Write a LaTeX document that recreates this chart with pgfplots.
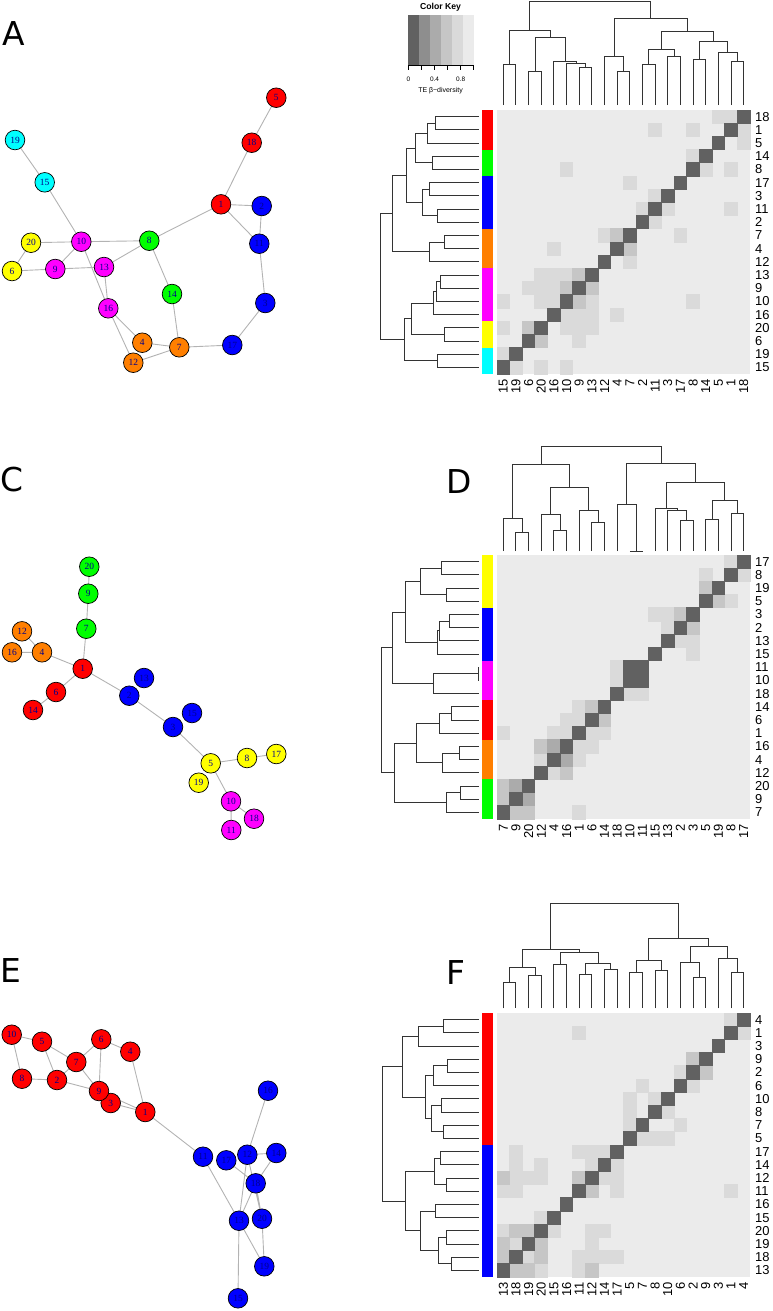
\documentclass[border=0pt]{standalone}
\usepackage{fontspec}
\setmainfont{Liberation Sans}
\newfontfamily\vlabfont{Liberation Serif}
\newfontfamily\panelfont{DejaVu Sans}
\usepackage{pgfplots}
\pgfplotsset{compat=1.18}

% grey levels of the colour key, 0 (dark) to 1 (light)
\definecolor{g1}{HTML}{616161}
\definecolor{g2}{HTML}{8E8E8E}
\definecolor{g3}{HTML}{ABABAB}
\definecolor{g4}{HTML}{C6C6C6}
\definecolor{g5}{HTML}{DADADA}
\definecolor{g6}{HTML}{EBEBEB}
\definecolor{vred}{HTML}{FF0000}
\definecolor{vgreen}{HTML}{00FF00}
\definecolor{vblue}{HTML}{0000FF}
\definecolor{vorange}{HTML}{FF7F00}
\definecolor{vmagenta}{HTML}{FF00FF}
\definecolor{vyellow}{HTML}{FFFF00}
\definecolor{vcyan}{HTML}{00FFFF}
\definecolor{edgec}{HTML}{B3B3B3}
\definecolor{labc}{HTML}{00008B}
\definecolor{dendc}{HTML}{333333}

\pgfplotsset{
  vert/.style={only marks, mark=*, color=black, mark size=9.8bp,
    mark options={fill=#1, line width=0.7bp},
    point meta=explicit symbolic, nodes near coords, nodes near coords align=center,
    nodes near coords style={font=\vlabfont\fontsize{9.5}{9.5}\selectfont, text=labc, inner sep=0pt}},
  edges/.style={color=edgec, line width=0.9bp, unbounded coords=jump, no markers},
  dend/.style={color=dendc, line width=1bp, unbounded coords=jump, no markers},
  heat/.style={anchor=north west, width=253bp, height=264bp, scale only axis,
    xmin=0.5, xmax=20.5, ymin=0.5, ymax=20.5, y dir=reverse, clip=false,
    axis line style={draw=none}, major tick length=0pt, tick style={draw=none},
    xtick={1,...,20}, ytick={1,...,20}, yticklabel pos=right,
    tick label style={font=\fontsize{13}{13}\selectfont, inner sep=0pt},
    xticklabel style={rotate=90, anchor=east}, yticklabel style={anchor=west},
    xticklabel shift=5bp, yticklabel shift=5bp},
  cell/.style={only marks, mark=square*, color=#1, mark size=6.6bp,
    mark options={xscale=0.958, line width=0pt}},
  side/.style={fill=#1, draw=none},
}

\begin{document}
\begin{tikzpicture}
\useasboundingbox (0,0) rectangle (773bp,-1311bp);

% ---------- canvas: networks, dendrograms, colour key (pixel coordinates) ----------
\begin{axis}[at={(0bp,0bp)}, anchor=north west, width=773bp, height=1311bp, scale only axis,
  xmin=0, xmax=773, ymin=0, ymax=1311, y dir=reverse, hide axis, clip=false]

% panel letters
\node[anchor=base west, inner sep=0pt, font=\panelfont\fontsize{33}{33}\selectfont] at (axis cs:2,45) {A};
\node[anchor=base west, inner sep=0pt, font=\panelfont\fontsize{33}{33}\selectfont] at (axis cs:446,45) {B};
\node[anchor=base west, inner sep=0pt, font=\panelfont\fontsize{33}{33}\selectfont] at (axis cs:0,491) {C};
\node[anchor=base west, inner sep=0pt, font=\panelfont\fontsize{33}{33}\selectfont] at (axis cs:446,493) {D};
\node[anchor=base west, inner sep=0pt, font=\panelfont\fontsize{33}{33}\selectfont] at (axis cs:0,982) {E};
\node[anchor=base west, inner sep=0pt, font=\panelfont\fontsize{33}{33}\selectfont] at (axis cs:446,984) {F};

% ---- network A ----
\addplot[edges] coordinates {
 (276.3,97.7) (251.7,142.7) (221,204.3) (149.3,240.7) (81.3,241.7) (31,242.7) (12,271) (55.3,269) (104,267) (108.3,308.3) (142.3,342.7) (179.3,347.3) (232.3,345) (265.3,303) (259.3,243.7) (261.7,206) (221,204.3) (259.3,243.7) (nan,nan)
 (149.3,240.7) (104,267) (nan,nan)
 (149.3,240.7) (172,294) (179.3,347.3) (133.3,362.7) (108.3,308.3) (81.3,241.7) (55.3,269) (nan,nan)
 (15,140) (44.7,182.3) (81.3,241.7)
};
\addplot[vert=vred] coordinates {(276.3,97.7) [5] (251.7,142.7) [18] (221,204.3) [1]};
\addplot[vert=vblue] coordinates {(261.7,206) [2] (259.3,243.7) [11] (265.3,303) [3] (232.3,345) [17]};
\addplot[vert=vgreen] coordinates {(149.3,240.7) [8] (172,294) [14]};
\addplot[vert=vcyan] coordinates {(15,140) [19] (44.7,182.3) [15]};
\addplot[vert=vyellow] coordinates {(31,242.7) [20] (12,271) [6]};
\addplot[vert=vmagenta] coordinates {(81.3,241.7) [10] (55.3,269) [9] (104,267) [13] (108.3,308.3) [16]};
\addplot[vert=vorange] coordinates {(142.3,342.7) [4] (179.3,347.3) [7] (133.3,362.7) [12]};

% ---- network C ----
\addplot[edges] coordinates {
 (89.3,566.7) (88.3,593.7) (86.3,628.7) (82.7,668.7) (129.3,695.7) (173,727) (210.7,763.3) (247,758) (276.3,754) (nan,nan)
 (22,631.3) (42,652.3) (82.7,668.7) (56,692) (33,710) (nan,nan)
 (12,652.3) (42,652.3) (nan,nan)
 (210.7,763.3) (231,801.3) (231.3,830) (nan,nan)
 (231,801.3) (254,818.7)
};
\addplot[vert=vgreen] coordinates {(89.3,566.7) [20] (88.3,593.7) [9] (86.3,628.7) [7]};
\addplot[vert=vorange] coordinates {(22,631.3) [12] (12,652.3) [16] (42,652.3) [4]};
\addplot[vert=vred] coordinates {(82.7,668.7) [1] (56,692) [6] (33,710) [14]};
\addplot[vert=vblue] coordinates {(144,678) [13] (129.3,695.7) [2] (192,713) [15] (173,727) [3]};
\addplot[vert=vyellow] coordinates {(210.7,763.3) [5] (247,758) [8] (276.3,754) [17] (198.7,782.7) [19]};
\addplot[vert=vmagenta] coordinates {(231,801.3) [10] (254,818.7) [18] (231.3,830) [11]};

% ---- network E ----
\addplot[edges] coordinates {
 (22,1078.7) (11.7,1034.7) (42,1041.7) (57,1080) (22,1078.7) (nan,nan)
 (42,1041.7) (76.3,1062) (57,1080) (99,1091) (145.3,1112) (203,1156.7) (239,1220.7) (238,1298.3) (nan,nan)
 (76.3,1062) (101.3,1039.3) (130.3,1051.7) (145.3,1112) (110.7,1103) (nan,nan)
 (76.3,1062) (99,1091) (101.3,1039.3) (nan,nan)
 (268,1090.7) (247.3,1154.7) (276.3,1153) (255.7,1183.3) (226.3,1160.3) (nan,nan)
 (247.3,1154.7) (239,1220.7) (255.7,1183.3) (262,1218.7) (247.3,1154.7) (nan,nan)
 (239,1220.7) (264.3,1266.3) (262,1218.7)
};
\addplot[vert=vred] coordinates {(11.7,1034.7) [10] (42,1041.7) [5] (101.3,1039.3) [6] (130.3,1051.7) [4] (76.3,1062) [7] (22,1078.7) [8] (57,1080) [2] (110.7,1103) [3] (99,1091) [9] (145.3,1112) [1]};
\addplot[vert=vblue] coordinates {(268,1090.7) [16] (203,1156.7) [11] (226.3,1160.3) [17] (247.3,1154.7) [12] (276.3,1153) [14] (255.7,1183.3) [18] (239,1220.7) [13] (262,1218.7) [20] (264.3,1266.3) [19] (238,1298.3) [15]};

% ---- colour key ----
\addplot[side=g1] coordinates {(408.3,15) (419.2,15) (419.2,65.7) (408.3,65.7)};
\addplot[side=g2] coordinates {(419.2,15) (430.1,15) (430.1,65.7) (419.2,65.7)};
\addplot[side=g3] coordinates {(430.1,15) (441,15) (441,65.7) (430.1,65.7)};
\addplot[side=g4] coordinates {(441,15) (451.9,15) (451.9,65.7) (441,65.7)};
\addplot[side=g5] coordinates {(451.9,15) (462.8,15) (462.8,65.7) (451.9,65.7)};
\addplot[side=g6] coordinates {(462.8,15) (473.7,15) (473.7,65.7) (462.8,65.7)};
\addplot[black, line width=0.8bp, unbounded coords=jump, no markers] coordinates {
 (408.3,65.7) (473.7,65.7) (nan,nan) (408.3,65.7) (408.3,70) (nan,nan)
 (421.4,65.7) (421.4,70) (nan,nan) (434.5,65.7) (434.5,70) (nan,nan)
 (447.5,65.7) (447.5,70) (nan,nan) (460.6,65.7) (460.6,70) (nan,nan)
 (473.7,65.7) (473.7,70)
};
\node[font=\bfseries\fontsize{8.7}{9}\selectfont, inner sep=0pt] at (axis cs:440.5,7.3) {Color Key};
\node[font=\fontsize{6.5}{7}\selectfont, inner sep=0pt] at (axis cs:408.3,79.5) {0};
\node[font=\fontsize{6.5}{7}\selectfont, inner sep=0pt] at (axis cs:434.5,79.5) {0.4};
\node[font=\fontsize{6.5}{7}\selectfont, inner sep=0pt] at (axis cs:460.6,79.5) {0.8};
\node[font=\fontsize{7}{7}\selectfont, inner sep=0pt] at (axis cs:440.5,90.5) {TE β−diversity};

% ---- dendrograms B ----
\addplot[dend] coordinates {
 (503.3,105) (503.3,64.3) (515.9,64.3) (515.9,105) (nan,nan)
 (528.6,105) (528.6,71.7) (541.3,71.7) (541.3,105) (nan,nan)
 (579.2,105) (579.2,67.7) (591.9,67.7) (591.9,105) (nan,nan)
 (566.6,105) (566.6,63.3) (585.6,63.3) (585.6,67.7) (nan,nan)
 (553.9,105) (553.9,61) (576.1,61) (576.1,63.3) (nan,nan)
 (535,71.7) (535,37.7) (565,37.7) (565,61) (nan,nan)
 (509.6,64.3) (509.6,30) (550,30) (550,37.7) (nan,nan)
 (617.2,105) (617.2,71.7) (629.8,71.7) (629.8,105) (nan,nan)
 (604.5,105) (604.5,56.7) (623.5,56.7) (623.5,71.7) (nan,nan)
 (642.5,105) (642.5,64.3) (655.2,64.3) (655.2,105) (nan,nan)
 (667.8,105) (667.8,56) (680.5,56) (680.5,105) (nan,nan)
 (648.8,64.3) (648.8,49.3) (674.2,49.3) (674.2,56) (nan,nan)
 (693.1,105) (693.1,59.3) (705.8,59.3) (705.8,105) (nan,nan)
 (731.1,105) (731.1,61.7) (743.7,61.7) (743.7,105) (nan,nan)
 (718.4,105) (718.4,52.3) (737.4,52.3) (737.4,61.7) (nan,nan)
 (699.5,59.3) (699.5,41) (727.9,41) (727.9,52.3) (nan,nan)
 (661.5,49.3) (661.5,31.7) (713.7,31.7) (713.7,41) (nan,nan)
 (614,56.7) (614,18.3) (687.6,18.3) (687.6,31.7) (nan,nan)
 (529.8,30) (529.8,1.7) (650.8,1.7) (650.8,18.3)
};
\addplot[dend] coordinates {
 (479,116.6) (435.7,116.6) (435.7,129.8) (479,129.8) (nan,nan)
 (435.7,123.2) (427.7,123.2) (427.7,143) (479,143) (nan,nan)
 (479,156.2) (432.3,156.2) (432.3,169.4) (479,169.4) (nan,nan)
 (427.7,133.1) (415,133.1) (415,162.8) (432.3,162.8) (nan,nan)
 (479,182.6) (429.3,182.6) (429.3,195.8) (479,195.8) (nan,nan)
 (479,209) (437.3,209) (437.3,222.2) (479,222.2) (nan,nan)
 (429.3,189.2) (422.7,189.2) (422.7,215.6) (437.3,215.6) (nan,nan)
 (415,148) (406,148) (406,202.4) (422.7,202.4) (nan,nan)
 (479,235.4) (444.3,235.4) (444.3,248.6) (479,248.6) (nan,nan)
 (444.3,242) (429.3,242) (429.3,261.8) (479,261.8) (nan,nan)
 (406,175.2) (392.7,175.2) (392.7,251.9) (429.3,251.9) (nan,nan)
 (479,275) (440.3,275) (440.3,288.2) (479,288.2) (nan,nan)
 (440.3,281.6) (436.3,281.6) (436.3,301.4) (479,301.4) (nan,nan)
 (436.3,291.5) (433.3,291.5) (433.3,314.6) (479,314.6) (nan,nan)
 (479,327.8) (444.7,327.8) (444.7,341) (479,341) (nan,nan)
 (433.3,303) (411.3,303) (411.3,334.4) (444.7,334.4) (nan,nan)
 (479,354.2) (437.3,354.2) (437.3,367.4) (479,367.4) (nan,nan)
 (411.3,318.7) (404.3,318.7) (404.3,360.8) (437.3,360.8) (nan,nan)
 (392.7,213.5) (380.5,213.5) (380.5,339.8) (404.3,339.8)
};

% ---- dendrograms D ----
\addplot[dend] coordinates {
 (515.9,551) (515.9,532.7) (528.6,532.7) (528.6,551) (nan,nan)
 (503.3,551) (503.3,518.7) (522.3,518.7) (522.3,532.7) (nan,nan)
 (553.9,551) (553.9,530.7) (566.6,530.7) (566.6,551) (nan,nan)
 (541.3,551) (541.3,514) (560.3,514) (560.3,530.7) (nan,nan)
 (591.9,551) (591.9,522.7) (604.5,522.7) (604.5,551) (nan,nan)
 (579.2,551) (579.2,510.7) (598.2,510.7) (598.2,522.7) (nan,nan)
 (550.8,514) (550.8,487.7) (588.7,487.7) (588.7,510.7) (nan,nan)
 (512.8,518.7) (512.8,464.3) (569.8,464.3) (569.8,487.7) (nan,nan)
 (629.8,551) (642.5,551) (nan,nan)
 (617.2,551) (617.2,504.7) (636.2,504.7) (636.2,551) (nan,nan)
 (680.5,551) (680.5,520.7) (693.1,520.7) (693.1,551) (nan,nan)
 (667.8,551) (667.8,510.7) (686.8,510.7) (686.8,520.7) (nan,nan)
 (655.2,551) (655.2,508) (677.3,508) (677.3,510.7) (nan,nan)
 (705.8,551) (705.8,519.3) (718.4,519.3) (718.4,551) (nan,nan)
 (731.1,551) (731.1,513.3) (743.7,513.3) (743.7,551) (nan,nan)
 (712.1,519.3) (712.1,500) (737.4,500) (737.4,513.3) (nan,nan)
 (666.3,508) (666.3,482.7) (724.8,482.7) (724.8,500) (nan,nan)
 (626.7,504.7) (626.7,463.3) (695.6,463.3) (695.6,482.7) (nan,nan)
 (541.3,464.3) (541.3,446) (661.2,446) (661.2,463.3)
};
\addplot[dend] coordinates {
 (479,561.6) (441.7,561.6) (441.7,574.8) (479,574.8) (nan,nan)
 (479,588) (446.7,588) (446.7,601.2) (479,601.2) (nan,nan)
 (441.7,568.2) (420,568.2) (420,594.6) (446.7,594.6) (nan,nan)
 (479,614.4) (449.3,614.4) (449.3,627.6) (479,627.6) (nan,nan)
 (449.3,621) (439.3,621) (439.3,640.8) (479,640.8) (nan,nan)
 (439.3,630.9) (437.3,630.9) (437.3,654) (479,654) (nan,nan)
 (420,581.4) (405,581.4) (405,642.5) (437.3,642.5) (nan,nan)
 (479,667.2) (478,667.2) (478,680.4) (479,680.4) (nan,nan)
 (478,673.8) (433.3,673.8) (433.3,693.6) (479,693.6) (nan,nan)
 (405,612) (392.7,612) (392.7,683.7) (433.3,683.7) (nan,nan)
 (479,706.8) (451,706.8) (451,720) (479,720) (nan,nan)
 (451,713.4) (439.3,713.4) (439.3,733.2) (479,733.2) (nan,nan)
 (479,746.4) (459,746.4) (459,759.6) (479,759.6) (nan,nan)
 (459,753) (442.7,753) (442.7,772.8) (479,772.8) (nan,nan)
 (439.3,723.3) (416.7,723.3) (416.7,762.9) (442.7,762.9) (nan,nan)
 (479,786) (460,786) (460,799.2) (479,799.2) (nan,nan)
 (460,792.6) (446.7,792.6) (446.7,812.4) (479,812.4) (nan,nan)
 (416.7,743.1) (394,743.1) (394,802.5) (446.7,802.5) (nan,nan)
 (392.7,647.9) (381,647.9) (381,772.8) (394,772.8)
};

% ---- dendrograms F ----
\addplot[dend] coordinates {
 (503.3,1008.3) (503.3,982) (515.9,982) (515.9,1008.3) (nan,nan)
 (528.6,1008.3) (528.6,975.7) (541.3,975.7) (541.3,1008.3) (nan,nan)
 (509.6,982) (509.6,967.3) (535,967.3) (535,975.7) (nan,nan)
 (553.9,1008.3) (553.9,964.7) (566.6,964.7) (566.6,1008.3) (nan,nan)
 (579.2,1008.3) (579.2,974.7) (591.9,974.7) (591.9,1008.3) (nan,nan)
 (604.5,1008.3) (604.5,969.3) (617.2,969.3) (617.2,1008.3) (nan,nan)
 (585.6,974.7) (585.6,963.3) (610.9,963.3) (610.9,969.3) (nan,nan)
 (560.3,964.7) (560.3,952) (598.2,952) (598.2,963.3) (nan,nan)
 (522.3,967.3) (522.3,949.3) (579.2,949.3) (579.2,952) (nan,nan)
 (629.8,1008.3) (629.8,972.7) (642.5,972.7) (642.5,1008.3) (nan,nan)
 (655.2,1008.3) (655.2,970) (667.8,970) (667.8,1008.3) (nan,nan)
 (636.2,972.7) (636.2,960) (661.5,960) (661.5,970) (nan,nan)
 (693.1,1008.3) (693.1,977.3) (705.8,977.3) (705.8,1008.3) (nan,nan)
 (680.5,1008.3) (680.5,962.3) (699.5,962.3) (699.5,977.3) (nan,nan)
 (731.1,1008.3) (731.1,972.7) (743.7,972.7) (743.7,1008.3) (nan,nan)
 (718.4,1008.3) (718.4,958.3) (737.4,958.3) (737.4,972.7) (nan,nan)
 (690,962.3) (690,946) (727.9,946) (727.9,958.3) (nan,nan)
 (648.8,960) (648.8,938.7) (708.9,938.7) (708.9,946) (nan,nan)
 (550.8,949.3) (550.8,903.3) (678.9,903.3) (678.9,938.7)
};
\addplot[dend] coordinates {
 (479,1019.6) (443.3,1019.6) (443.3,1032.8) (479,1032.8) (nan,nan)
 (443.3,1026.2) (418,1026.2) (418,1046) (479,1046) (nan,nan)
 (479,1059.2) (447.3,1059.2) (447.3,1072.4) (479,1072.4) (nan,nan)
 (447.3,1065.8) (433.3,1065.8) (433.3,1085.6) (479,1085.6) (nan,nan)
 (479,1098.8) (441,1098.8) (441,1112) (479,1112) (nan,nan)
 (479,1125.2) (443.3,1125.2) (443.3,1138.4) (479,1138.4) (nan,nan)
 (441,1105.4) (431.7,1105.4) (431.7,1131.8) (443.3,1131.8) (nan,nan)
 (433.3,1075.7) (425,1075.7) (425,1118.6) (431.7,1118.6) (nan,nan)
 (418,1036.1) (402,1036.1) (402,1097.2) (425,1097.2) (nan,nan)
 (479,1151.6) (440,1151.6) (440,1164.8) (479,1164.8) (nan,nan)
 (479,1178) (446,1178) (446,1191.2) (479,1191.2) (nan,nan)
 (440,1158.2) (434,1158.2) (434,1184.6) (446,1184.6) (nan,nan)
 (479,1204.4) (435,1204.4) (435,1217.6) (479,1217.6) (nan,nan)
 (479,1230.8) (446,1230.8) (446,1244) (479,1244) (nan,nan)
 (479,1257.2) (451.7,1257.2) (451.7,1270.4) (479,1270.4) (nan,nan)
 (446,1237.4) (438.3,1237.4) (438.3,1263.8) (451.7,1263.8) (nan,nan)
 (435,1211) (420,1211) (420,1250.6) (438.3,1250.6) (nan,nan)
 (434,1171.4) (405,1171.4) (405,1230.8) (420,1230.8) (nan,nan)
 (402,1066.6) (382,1066.6) (382,1201.1) (405,1201.1)
};
\end{axis}

% ---------- heatmap B ----------
\begin{axis}[heat, at={(497bp,-110bp)},
  xticklabels={15,19,6,20,16,10,9,13,12,4,7,2,11,3,17,8,14,5,1,18},
  yticklabels={18,1,5,14,8,17,3,11,2,7,4,12,13,9,10,16,20,6,19,15}]
\addplot[side=g6] coordinates {(0.5,0.5) (20.5,0.5) (20.5,20.5) (0.5,20.5)};
\addplot[cell=g5] coordinates {(18,1)(19,1)(13,2)(16,2)(20,2)(20,3)(16,4)(6,5)(17,5)(19,5)(11,6)(13,7)(12,8)(14,8)(19,8)(13,9)(9,10)(15,10)(5,11)(11,12)(4,13)(5,13)(6,13)(3,14)(4,14)(5,14)(1,15)(4,15)(5,15)(8,15)(16,15)(6,16)(7,16)(8,16)(10,16)(1,17)(6,17)(7,17)(8,17)(7,18)(1,19)(2,20)(4,20)(6,20)};
\addplot[cell=g4] coordinates {(10,10)(11,11)(7,13)(6,14)(8,14)(7,15)(3,17)(4,18)};
\addplot[cell=g1] coordinates {(20,1)(19,2)(18,3)(17,4)(16,5)(15,6)(14,7)(13,8)(12,9)(11,10)(10,11)(9,12)(8,13)(7,14)(6,15)(5,16)(4,17)(3,18)(2,19)(1,20)};
\addplot[side=vred] coordinates {(-0.71,0.5) (0.21,0.5) (0.21,3.5) (-0.71,3.5)};
\addplot[side=vgreen] coordinates {(-0.71,3.5) (0.21,3.5) (0.21,5.5) (-0.71,5.5)};
\addplot[side=vblue] coordinates {(-0.71,5.5) (0.21,5.5) (0.21,9.5) (-0.71,9.5)};
\addplot[side=vorange] coordinates {(-0.71,9.5) (0.21,9.5) (0.21,12.5) (-0.71,12.5)};
\addplot[side=vmagenta] coordinates {(-0.71,12.5) (0.21,12.5) (0.21,16.5) (-0.71,16.5)};
\addplot[side=vyellow] coordinates {(-0.71,16.5) (0.21,16.5) (0.21,18.5) (-0.71,18.5)};
\addplot[side=vcyan] coordinates {(-0.71,18.5) (0.21,18.5) (0.21,20.5) (-0.71,20.5)};
\end{axis}

% ---------- heatmap D ----------
\begin{axis}[heat, at={(497bp,-555bp)},
  xticklabels={7,9,20,12,4,16,1,6,14,18,10,11,15,13,2,3,5,19,8,17},
  yticklabels={17,8,19,5,3,2,13,15,11,10,18,14,6,1,16,4,12,20,9,7}]
\addplot[side=g6] coordinates {(0.5,0.5) (20.5,0.5) (20.5,20.5) (0.5,20.5)};
\addplot[cell=g5] coordinates {(19,1)(17,2)(20,2)(19,4)(13,5)(14,5)(14,6)(15,7)(16,7)(16,8)(10,9)(10,10)(11,11)(12,11)(7,12)(6,13)(7,13)(1,14)(5,14)(6,14)(8,14)(9,14)(7,15)(8,15)(4,16)(7,16)(5,17)(7,20)};
\addplot[cell=g4] coordinates {(17,3)(18,4)(15,5)(16,6)(8,12)(9,13)(4,15)(6,17)(1,18)(1,19)(2,20)(3,20)};
\addplot[cell=g3] coordinates {(5,15)(6,16)(2,18)(3,19)};
\addplot[cell=g1] coordinates {(20,1)(19,2)(18,3)(17,4)(16,5)(15,6)(14,7)(13,8)(12,9)(11,9)(12,10)(11,10)(10,11)(9,12)(8,13)(7,14)(6,15)(5,16)(4,17)(3,18)(2,19)(1,20)};
\addplot[side=vyellow] coordinates {(-0.71,0.5) (0.21,0.5) (0.21,4.5) (-0.71,4.5)};
\addplot[side=vblue] coordinates {(-0.71,4.5) (0.21,4.5) (0.21,8.5) (-0.71,8.5)};
\addplot[side=vmagenta] coordinates {(-0.71,8.5) (0.21,8.5) (0.21,11.5) (-0.71,11.5)};
\addplot[side=vred] coordinates {(-0.71,11.5) (0.21,11.5) (0.21,14.5) (-0.71,14.5)};
\addplot[side=vorange] coordinates {(-0.71,14.5) (0.21,14.5) (0.21,17.5) (-0.71,17.5)};
\addplot[side=vgreen] coordinates {(-0.71,17.5) (0.21,17.5) (0.21,20.5) (-0.71,20.5)};
\end{axis}

% ---------- heatmap F ----------
\begin{axis}[heat, at={(497bp,-1013bp)},
  xticklabels={13,18,19,20,15,16,11,12,14,17,5,7,8,10,6,2,9,3,1,4},
  yticklabels={4,1,3,9,2,6,10,8,7,5,17,14,12,11,16,15,20,19,18,13}]
\addplot[side=g6] coordinates {(0.5,0.5) (20.5,0.5) (20.5,20.5) (0.5,20.5)};
\addplot[cell=g5] coordinates {(19,1)(20,2)(7,2)(15,5)(16,6)(12,6)(11,7)(13,7)(11,8)(14,8)(11,9)(15,9)(12,10)(13,10)(14,10)(2,11)(7,11)(8,11)(9,11)(2,12)(4,12)(8,12)(10,12)(2,13)(3,13)(4,13)(9,13)(10,13)(1,14)(2,14)(10,14)(19,14)(4,16)(1,17)(5,17)(8,17)(9,17)(2,18)(8,18)(3,19)(7,19)(8,19)(9,19)(10,19)(4,20)(7,20)};
\addplot[cell=g4] coordinates {(16,4)(17,5)(1,13)(7,13)(8,14)(2,17)(3,17)(1,18)(4,18)(1,19)(4,19)(2,20)(3,20)(8,20)};
\addplot[cell=g1] coordinates {(20,1)(19,2)(18,3)(17,4)(16,5)(15,6)(14,7)(13,8)(12,9)(11,10)(10,11)(9,12)(8,13)(7,14)(6,15)(5,16)(4,17)(3,18)(2,19)(1,20)};
\addplot[side=vred] coordinates {(-0.71,0.5) (0.21,0.5) (0.21,10.5) (-0.71,10.5)};
\addplot[side=vblue] coordinates {(-0.71,10.5) (0.21,10.5) (0.21,20.5) (-0.71,20.5)};
\end{axis}
\end{tikzpicture}
\end{document}
